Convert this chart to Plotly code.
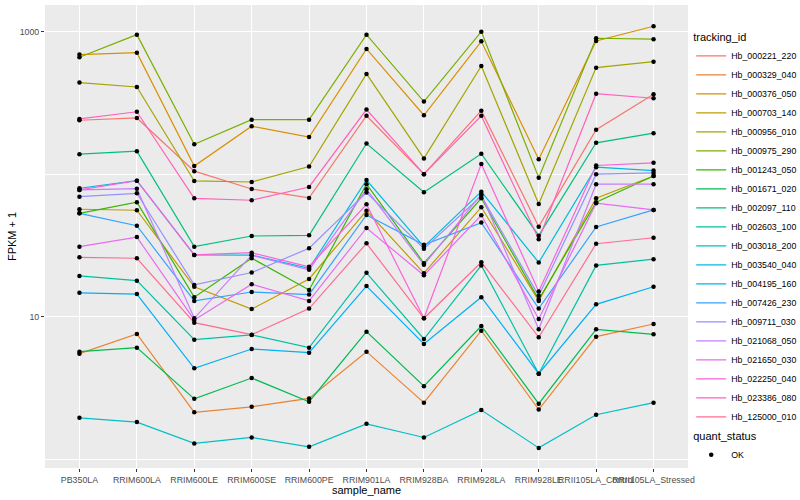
import plotly.graph_objects as go

samples = ["PB350LA", "RRIM600LA", "RRIM600LE", "RRIM600SE", "RRIM600PE",
           "RRIM901LA", "RRIM928BA", "RRIM928LA", "RRIM928LE",
           "RRII105LA_Control", "RRII105LA_Stressed"]

tracking_ids = ["Hb_000221_220", "Hb_000329_040", "Hb_000376_050", "Hb_000703_140",
                "Hb_000956_010", "Hb_000975_290", "Hb_001243_050", "Hb_001671_020",
                "Hb_002097_110", "Hb_002603_100", "Hb_003018_200", "Hb_003540_040",
                "Hb_004195_160", "Hb_007426_230", "Hb_009711_030", "Hb_021068_050",
                "Hb_021650_030", "Hb_022250_040", "Hb_023386_080", "Hb_125000_010"]

colors = ["#F8766D", "#EA8331", "#D89000", "#C09B00", "#A3A500", "#7CAE00",
          "#39B600", "#00BB4E", "#00BF7D", "#00C1A3", "#00BFC4", "#00BAE0",
          "#00B0F6", "#35A2FF", "#9590FF", "#C77CFF", "#E76BF3", "#FA62DB",
          "#FF62BC", "#FF6C91"]

# FPKM + 1 per sample (same order as samples)
Hb_000221_220 = [239, 248, 105, 78.7, 68.1, 257, 100, 279, 42.8, 205, 364]
Hb_000329_040 = [5.50, 7.56, 2.13, 2.33, 2.67, 5.68, 2.49, 7.97, 2.23, 7.24, 8.88]
Hb_000376_050 = [690, 712, 114, 217, 182, 756, 259, 856, 127, 860, 1091]
Hb_000703_140 = [56.7, 55.8, 16.2, 11.3, 18.4, 55.4, 20.2, 58.6, 12.9, 67.7, 97.1]
Hb_000956_010 = [439, 409, 89.6, 88.1, 113, 505, 129, 574, 61.8, 559, 616]
Hb_000975_290 = [661, 953, 162, 241, 241, 953, 323, 1000, 94.5, 899, 885]
Hb_001243_050 = [53.1, 63.5, 13.7, 25.7, 15.4, 85.0, 23.7, 67.7, 13.2, 63.5, 97.1]
Hb_001671_020 = [5.68, 6.06, 2.65, 3.71, 2.53, 7.85, 3.25, 8.60, 2.45, 8.15, 7.52]
Hb_002097_110 = [138, 145, 31.0, 36.8, 37.2, 164, 74.6, 139, 37.0, 166, 194]
Hb_002603_100 = [19.3, 17.9, 6.89, 7.44, 6.06, 20.3, 6.97, 22.9, 3.98, 22.9, 25.3]
Hb_003018_200 = [1.95, 1.82, 1.29, 1.42, 1.22, 1.77, 1.42, 2.21, 1.20, 2.05, 2.49]
Hb_003540_040 = [79.6, 90.0, 27.1, 27.0, 21.8, 91.0, 31.0, 75.4, 24.0, 112, 106]
Hb_004195_160 = [14.7, 14.4, 4.34, 5.93, 5.59, 16.4, 6.43, 13.7, 3.98, 12.2, 16.2]
Hb_007426_230 = [53.1, 43.5, 12.9, 14.9, 14.3, 51.7, 31.9, 45.7, 11.4, 42.6, 56.1]
Hb_009711_030 = [69.5, 73.4, 16.7, 20.4, 30.2, 74.2, 30.0, 70.3, 14.0, 100, 102]
Hb_021068_050 = [77.5, 79.1, 9.74, 27.0, 21.3, 78.3, 23.1, 72.2, 8.15, 85.0, 85.0]
Hb_021650_030 = [31.0, 36.2, 9.48, 16.9, 12.9, 41.9, 19.5, 51.5, 9.63, 62.5, 56.1]
Hb_022250_040 = [77.5, 90.0, 27.1, 28.1, 22.4, 61.5, 9.74, 118, 15.0, 115, 120]
Hb_023386_080 = [244, 274, 67.7, 65.6, 81.3, 284, 100, 257, 34.9, 367, 341]
Hb_125000_010 = [26.1, 25.7, 9.07, 7.47, 11.4, 32.7, 9.74, 24.1, 7.17, 32.5, 35.8]

series_values = [Hb_000221_220, Hb_000329_040, Hb_000376_050, Hb_000703_140,
                 Hb_000956_010, Hb_000975_290, Hb_001243_050, Hb_001671_020,
                 Hb_002097_110, Hb_002603_100, Hb_003018_200, Hb_003540_040,
                 Hb_004195_160, Hb_007426_230, Hb_009711_030, Hb_021068_050,
                 Hb_021650_030, Hb_022250_040, Hb_023386_080, Hb_125000_010]

y_tick_vals = [10, 1000]
y_tick_text = ["10", "1000"]
y_minor_vals = [1, 100]

FONT = "Liberation Sans, Arial, Helvetica, sans-serif"

fig = go.Figure()

for name, col, vals in zip(tracking_ids, colors, series_values):
    fig.add_trace(go.Scatter(
        x=samples, y=vals, mode="lines", name=name,
        line=dict(color=col, width=1.2),
        legend="legend", hoverinfo="skip",
    ))

all_x, all_y = [], []
for vals in series_values:
    all_x.extend(samples)
    all_y.extend(vals)

fig.add_trace(go.Scatter(
    x=all_x, y=all_y, mode="markers", name="OK",
    marker=dict(color="black", size=4.5),
    legend="legend2", hoverinfo="skip",
))

fig.update_layout(
    width=800, height=500,
    margin=dict(l=45, r=112, t=5, b=32, autoexpand=False),
    paper_bgcolor="white",
    plot_bgcolor="#EBEBEB",
    font=dict(family=FONT, color="black"),
    legend=dict(
        title=dict(text="tracking_id", font=dict(size=11, color="black")),
        font=dict(size=8.8, color="black"),
        x=1.005, xanchor="left", y=0.952484, yanchor="top",
        bgcolor="rgba(0,0,0,0)", tracegroupgap=0, itemwidth=30,
    ),
    legend2=dict(
        title=dict(text="quant_status", font=dict(size=11, color="black")),
        font=dict(size=8.8, color="black"),
        x=1.005, xanchor="left", y=0.090713, yanchor="top",
        bgcolor="rgba(0,0,0,0)", itemwidth=30,
    ),
    xaxis=dict(
        type="category", categoryorder="array", categoryarray=samples,
        range=[-0.6, 10.6], automargin=False,
        tickfont=dict(size=8.8, color="#4D4D4D"), tickangle=0,
        ticks="outside", ticklen=3, tickcolor="#333333", tickwidth=1,
        showgrid=True, gridcolor="white", gridwidth=1.07,
        zeroline=False, showline=False,
    ),
    yaxis=dict(
        type="log", range=[-0.062, 3.187], automargin=False,
        tickvals=y_tick_vals, ticktext=y_tick_text,
        tickfont=dict(size=8.8, color="#4D4D4D"),
        ticks="outside", ticklen=3, tickcolor="#333333", tickwidth=1,
        showgrid=True, gridcolor="white", gridwidth=1.07,
        minor=dict(tickvals=y_minor_vals, showgrid=True, gridcolor="white",
                   gridwidth=0.53, ticks=""),
        zeroline=False, showline=False,
    ),
    annotations=[
        dict(text="sample_name", xref="paper", yref="paper", x=0.5, y=-0.0475,
             xanchor="center", yanchor="middle", showarrow=False,
             font=dict(size=11, color="black")),
        dict(text="FPKM + 1", xref="paper", yref="paper", x=-0.052, y=0.5,
             xanchor="center", yanchor="middle", showarrow=False, textangle=-90,
             font=dict(size=11, color="black")),
    ],
)

fig.write_html("out.html", config={"displayModeBar": False},
               post_script="document.body.style.margin='0';")
